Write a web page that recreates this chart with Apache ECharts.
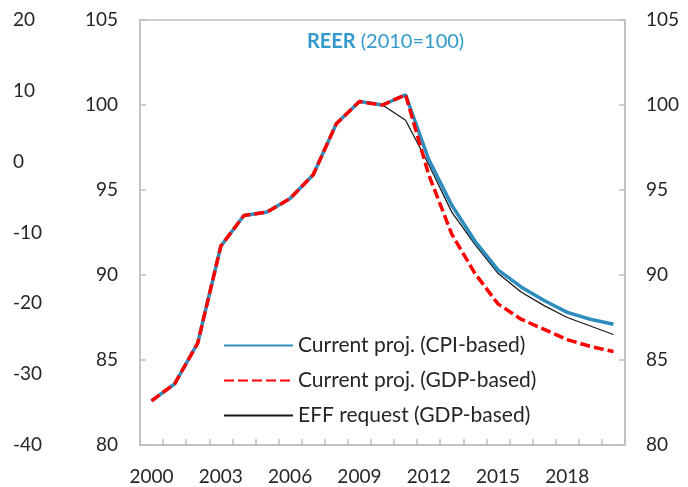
<!DOCTYPE html>
<html>
<head>
<meta charset="utf-8">
<script src="https://cdn.jsdelivr.net/npm/echarts@6/dist/echarts.min.js"></script>
<style>
  html, body { margin: 0; padding: 0; background: #fff; }
  #chart { width: 688px; height: 487px; }
</style>
</head>
<body>
<div id="chart"></div>
<script>
  // REER (2010=100)
  const years = ['2000', '2001', '2002', '2003', '2004', '2005', '2006', '2007', '2008', '2009', '2010',
    '2011', '2012', '2013', '2014', '2015', '2016', '2017', '2018', '2019', '2020']
  const cpiBased = [82.6, 83.6, 86.0, 91.7, 93.5, 93.7, 94.5, 95.9, 98.9, 100.2, 100.0,
    100.6, 96.8, 94.1, 92.0, 90.3, 89.3, 88.5, 87.8, 87.4, 87.1]
  const gdpBased = [82.6, 83.6, 86.0, 91.7, 93.5, 93.7, 94.5, 95.9, 98.9, 100.2, 100.0,
    100.6, 95.9, 92.4, 90.1, 88.3, 87.4, 86.8, 86.2, 85.8, 85.5]
  const effRequest = [82.6, 83.6, 86.0, 91.7, 93.5, 93.7, 94.5, 95.9, 98.9, 100.2, 100.0,
    99.1, 96.5, 93.7, 91.8, 90.1, 89.0, 88.2, 87.5, 87.0, 86.5]
  const seriesNames = ['Current proj. (CPI-based)', 'Current proj. (GDP-based)', 'EFF request (GDP-based)']

  const font = 'Lato'
  const textColor = '#262626'
  const axisGray = '#bfbfbf'

  const reerAxis = (position, margin) => ({
    type: 'value',
    position: position,
    min: 80,
    max: 105,
    interval: 5,
    axisLine: { show: true, lineStyle: { color: axisGray, width: 1.5 } },
    axisTick: { show: true, inside: true, length: 6, lineStyle: { color: axisGray, width: 1.5 } },
    splitLine: { show: false },
    axisLabel: { margin: margin, color: textColor, fontSize: 19, fontFamily: font },
  })

  const chart = echarts.init(document.getElementById('chart'))
  chart.setOption({
    animation: false,
    title: {
      left: 302,
      top: 27,
      text: '{b|REER} {n|(2010=100)}',
      textStyle: {
        fontWeight: 'normal',
        rich: {
          b: { color: '#3399cc', fontSize: 20, fontWeight: 'bold', fontFamily: font },
          n: { color: '#3399cc', fontSize: 20, fontWeight: 'normal', fontFamily: font },
        },
      },
    },
    grid: {
      left: 140,
      right: 63,
      top: 20,
      bottom: 42,
      show: true,
      borderColor: axisGray,
      borderWidth: 1.5,
    },
    legend: {
      orient: 'vertical',
      left: 218,
      top: 330,
      itemWidth: 69,
      itemHeight: 20,
      itemGap: 14,
      data: seriesNames,
      itemStyle: { opacity: 0 },
      textStyle: { color: textColor, fontSize: 21, fontFamily: font },
    },
    xAxis: {
      type: 'category',
      data: years,
      boundaryGap: true,
      axisLine: { onZero: false, lineStyle: { color: axisGray, width: 1.5 } },
      axisTick: { show: true, inside: true, interval: 0, length: 6, lineStyle: { color: axisGray, width: 1.5 } },
      axisLabel: { interval: 2, margin: 22, color: textColor, fontSize: 19, fontFamily: font },
    },
    yAxis: [
      reerAxis('left', 22),
      reerAxis('right', 21),
      {
        type: 'value',
        position: 'left',
        offset: 100,
        min: -40,
        max: 20,
        interval: 10,
        axisLine: { show: false },
        axisTick: { show: false },
        splitLine: { show: false },
        axisLabel: { margin: 27, align: 'left', color: textColor, fontSize: 19, fontFamily: font },
      },
    ],
    series: [
      {
        name: seriesNames[0],
        type: 'line',
        yAxisIndex: 0,
        symbol: 'none',
        data: cpiBased,
        lineStyle: { color: '#2e8dbf', width: 3.5 },
        itemStyle: { color: '#2e8dbf' },
        z: 2,
      },
      {
        name: seriesNames[1],
        type: 'line',
        yAxisIndex: 0,
        symbol: 'none',
        data: gdpBased,
        lineStyle: { color: '#ff0000', width: 3.5, type: [10, 4] },
        itemStyle: { color: '#ff0000' },
        z: 3,
      },
      {
        name: seriesNames[2],
        type: 'line',
        yAxisIndex: 0,
        symbol: 'none',
        data: effRequest,
        lineStyle: { color: '#1a1a1a', width: 1.3 },
        itemStyle: { color: '#1a1a1a' },
        z: 1,
      },
    ],
  })
</script>
</body>
</html>
